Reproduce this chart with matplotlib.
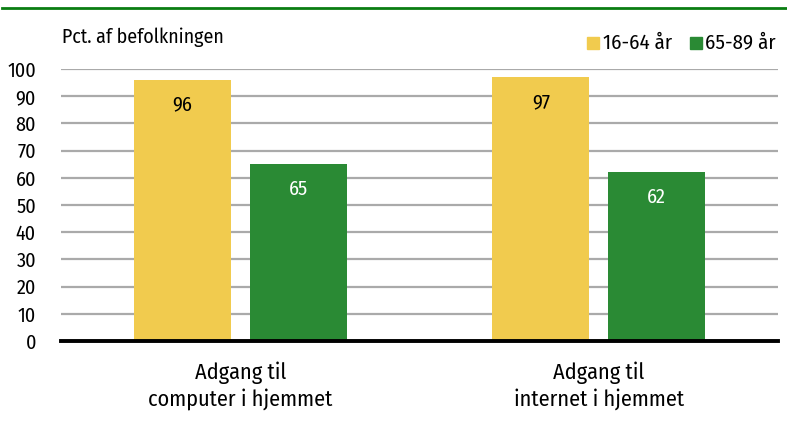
import matplotlib
matplotlib.use("Agg")
import matplotlib.pyplot as plt
import numpy as np

categories = ["Adgang til\ncomputer i hjemmet", "Adgang til\ninternet i hjemmet"]
series_names = ["16-64 år", "65-89 år"]
young = [96, 97]
old = [65, 62]
yticks = list(range(0, 101, 10))

YELLOW = "#f1cb4e"
GREEN = "#2a8a34"

plt.rcParams["font.family"] = ["Fira Sans Condensed", "DejaVu Sans"]

fig = plt.figure(figsize=(7.87, 4.21), dpi=100)
ax = fig.add_axes([61 / 787, 1 - 341 / 421, 717 / 787, (341 - 69) / 421])

x = np.arange(len(categories))
w = 0.27
off = 0.1616
b1 = ax.bar(x - off, young, w, color=YELLOW, zorder=3)
b2 = ax.bar(x + off, old, w, color=GREEN, zorder=3)

for rect, v in zip(b1, young):
    ax.text(rect.get_x() + rect.get_width() / 2, v - 9.2, str(v),
            ha="center", va="center", fontsize=14.5, color="black", zorder=4)
for rect, v in zip(b2, old):
    ax.text(rect.get_x() + rect.get_width() / 2, v - 9.2, str(v),
            ha="center", va="center", fontsize=14.5, color="white", zorder=4)

ax.set_xlim(-0.5, 1.5)
ax.set_ylim(0, 100)
ax.set_yticks(yticks)
ax.set_yticklabels([str(t) for t in yticks], fontsize=14.5)
ax.set_xticks(x)
ax.set_xticklabels(categories, fontsize=16, linespacing=1.2)
ax.tick_params(axis="both", length=0)
ax.tick_params(axis="y", pad=18)
ax.tick_params(axis="x", pad=15)
ax.grid(axis="y", color="#aaaaaa", linewidth=1.6, zorder=0)
for s in ["top", "right", "left"]:
    ax.spines[s].set_visible(False)
ax.spines["bottom"].set_linewidth(2.8)
ax.spines["bottom"].set_zorder(5)

fig.text(62 / 787, 1 - 37 / 421, "Pct. af befolkningen", fontsize=14.3, va="center", ha="left")

# legend: coloured squares with labels
fig.patches.append(plt.Rectangle((587 / 787, 1 - 49 / 421), 12 / 787, 12 / 421,
                                 transform=fig.transFigure, color=YELLOW, figure=fig))
fig.text(603 / 787, 1 - 43 / 421, series_names[0], fontsize=15, va="center", ha="left")
fig.patches.append(plt.Rectangle((690 / 787, 1 - 49 / 421), 12 / 787, 12 / 421,
                                 transform=fig.transFigure, color=GREEN, figure=fig))
fig.text(705 / 787, 1 - 43 / 421, series_names[1], fontsize=15, va="center", ha="left")

fig.add_artist(plt.Line2D([2 / 787, 1], [1 - 8 / 421, 1 - 8 / 421],
                          transform=fig.transFigure, color="#0a7d12", linewidth=2))

fig.savefig("out.png", dpi=100)
